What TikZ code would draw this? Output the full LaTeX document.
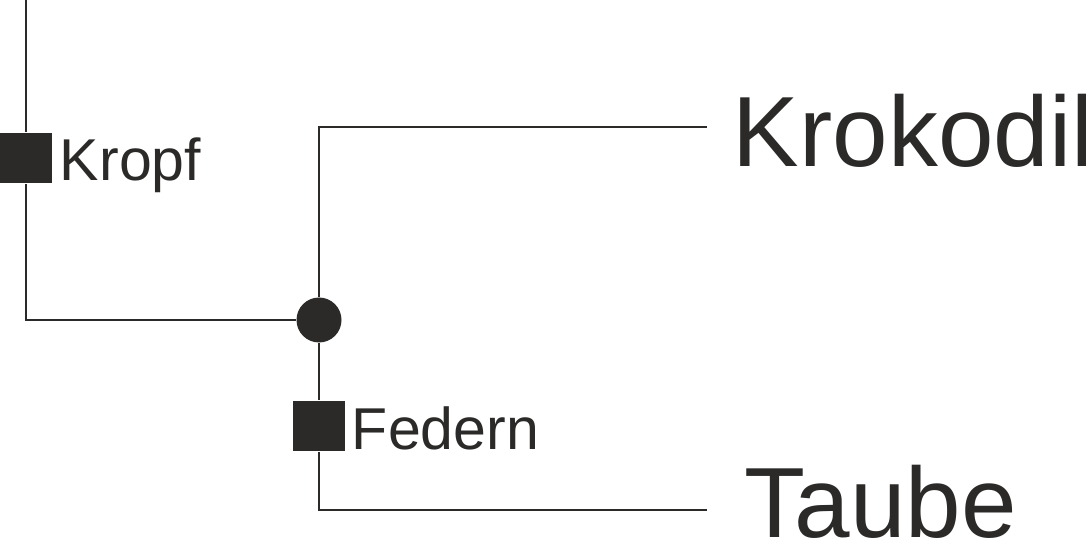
\documentclass[tikz,border=0pt]{standalone}
\usepackage{fontspec}
\setmainfont{Liberation Sans}
\usepackage{tikz}
\definecolor{ink}{RGB}{43,42,41}

\begin{document}
\begin{tikzpicture}[line width=1.4pt, draw=ink, text=ink]
            \useasboundingbox (0, 0) rectangle (27.15, 13.5);
            % Nodes
            \coordinate (top) at (0.65, 13.5);
            \node[rectangle, fill=ink, inner sep=0, minimum width=1.3cm, minimum height=1.25cm] (kropf) at (0.65, 9.55) {};
            \coordinate (lc) at (0.65, 5.5);
            \node[circle, fill=ink, inner sep=0, minimum size=1.125cm] (split) at (7.975, 5.5) {};
            \coordinate (uc) at (7.975, 10.325);
            \coordinate (ue) at (17.675, 10.325);
            \node[rectangle, fill=ink, inner sep=0, minimum width=1.3cm, minimum height=1.25cm] (federn) at (7.975, 2.85) {};
            \coordinate (bc) at (7.975, 0.75);
            \coordinate (be) at (17.675, 0.75);

            % Labels
            \node[anchor=base west, inner sep=0, font=\fontsize{42}{42}\selectfont] (lk) at (1.475, 8.975) {Kropf};
            \node[anchor=base west, inner sep=0, font=\fontsize{42}{42}\selectfont] (lf) at (8.775, 2.275) {Federn};
            \node[anchor=base west, inner sep=0, font=\fontsize{71}{71}\selectfont] (kroko) at (18.3, 9.325) {Krokodil};
            \node[anchor=base west, inner sep=0, font=\fontsize{71}{71}\selectfont] (taube) at (18.6, 0.075) {Taube};

            % Lines
            \draw[-] (top) -- (kropf);
            \draw[-] (kropf) -- (lc) -- (split);
            \draw[-] (split) -- (uc) -- (ue);
            \draw[-] (split) -- (federn);
            \draw[-] (federn) -- (bc) -- (be);
        \end{tikzpicture}
\end{document}
